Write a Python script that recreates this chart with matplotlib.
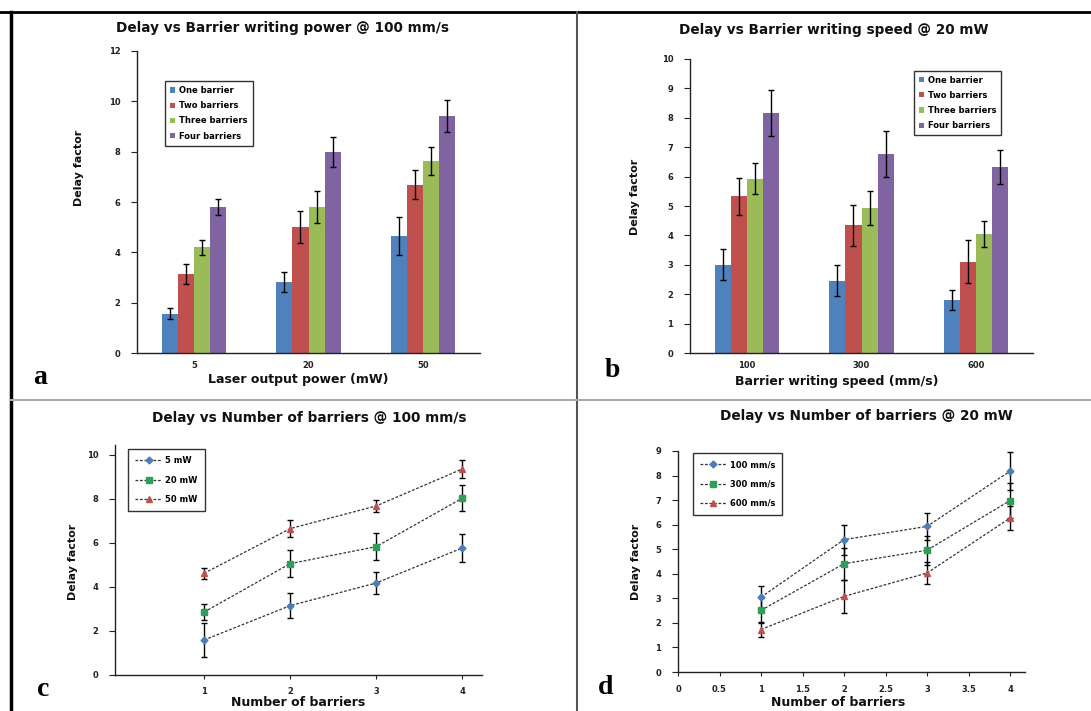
import matplotlib
matplotlib.use("Agg")
import matplotlib.pyplot as plt
import numpy as np
from matplotlib.lines import Line2D

plt.rcParams['font.family'] = ['DejaVu Sans']

W, H = 1091, 711

# ---------------- data ----------------
# Panel a: delay vs writing power @ 100 mm/s
powers = ["5", "20", "50"]
barrier_names = ["One barrier", "Two barriers", "Three barriers", "Four barriers"]
a_one = [1.56, 2.83, 4.65]
a_two = [3.15, 5.02, 6.69]
a_three = [4.20, 5.81, 7.62]
a_four = [5.79, 8.00, 9.43]
a_one_err = [0.22, 0.40, 0.77]
a_two_err = [0.40, 0.63, 0.58]
a_three_err = [0.30, 0.63, 0.55]
a_four_err = [0.32, 0.60, 0.63]

# Panel b: delay vs writing speed @ 20 mW
speeds = ["100", "300", "600"]
b_one = [3.00, 2.46, 1.79]
b_two = [5.33, 4.34, 3.11]
b_three = [5.93, 4.92, 4.05]
b_four = [8.16, 6.77, 6.32]
b_one_err = [0.53, 0.52, 0.34]
b_two_err = [0.63, 0.70, 0.72]
b_three_err = [0.53, 0.58, 0.44]
b_four_err = [0.79, 0.79, 0.57]

# Panel c: delay vs number of barriers @ 100 mm/s
n_barriers = [1, 2, 3, 4]
c_labels = ["5 mW", "20 mW", "50 mW"]
c_5mw = [1.59, 3.15, 4.18, 5.77]
c_20mw = [2.86, 5.06, 5.83, 8.03]
c_50mw = [4.62, 6.65, 7.68, 9.36]
c_5mw_err = [0.75, 0.58, 0.48, 0.64]
c_20mw_err = [0.38, 0.60, 0.60, 0.58]
c_50mw_err = [0.25, 0.40, 0.29, 0.39]

# Panel d: delay vs number of barriers @ 20 mW
d_labels = ["100 mm/s", "300 mm/s", "600 mm/s"]
d_100 = [3.05, 5.39, 5.93, 8.18]
d_300 = [2.51, 4.41, 4.96, 6.98]
d_600 = [1.73, 3.08, 4.03, 6.27]
d_100_err = [0.47, 0.61, 0.54, 0.78]
d_300_err = [0.50, 0.65, 0.59, 0.72]
d_600_err = [0.30, 0.68, 0.43, 0.50]

# ---------------- style ----------------
bar_colors = ["#4F81BD", "#C0504D", "#9BBB59", "#8064A2"]
line_colors = ["#4A7EBB", "#2E9E5B", "#C0504D"]
line_markers = ["D", "s", "^"]
line_msize = [3.5, 5, 4.5]

title_fs = 9.8
label_fs = 9
ylabel_fs = 8
tick_fs = 6
legend_fs = 6
letter_fs = 20

fig = plt.figure(figsize=(W / 100, H / 100), dpi=100)
fig.patch.set_facecolor("white")


def fx(px):
    return px / W


def fy(py):
    return 1 - py / H


def add_ax(left, right, bottom, top):
    return fig.add_axes([left / W, 1 - bottom / H, (right - left) / W, (bottom - top) / H])


def style_axes(ax, xticklen=0):
    for s in ["top", "right"]:
        ax.spines[s].set_visible(False)
    for s in ["left", "bottom"]:
        ax.spines[s].set_color("#222222")
        ax.spines[s].set_linewidth(1.0)
    ax.tick_params(axis="y", length=4, width=0.8, labelsize=tick_fs, colors="#222222", pad=8)
    ax.tick_params(axis="x", length=xticklen, width=0.8, labelsize=tick_fs, colors="#222222", pad=6)
    for lab in ax.get_xticklabels() + ax.get_yticklabels():
        lab.set_fontweight("bold")


def place_labels(ax, title, title_xy, xlabel, xlabel_xy, ylabel_xy):
    fig.text(fx(title_xy[0]), fy(title_xy[1]), title, fontsize=title_fs, fontweight="bold",
             ha="center", va="center", color="#111111")
    ax.set_xlabel(xlabel, fontsize=label_fs, fontweight="bold", color="#111111")
    ax.xaxis.set_label_coords(fx(xlabel_xy[0]), fy(xlabel_xy[1]), transform=fig.transFigure)
    ax.xaxis.label.set_va("center")
    ax.set_ylabel("Delay factor", fontsize=ylabel_fs, fontweight="bold", color="#111111")
    ax.yaxis.set_label_coords(fx(ylabel_xy[0]), fy(ylabel_xy[1]), transform=fig.transFigure)
    ax.yaxis.label.set_va("center")


def bar_panel(ax, cats, series, errs, ylim, yticks, legend_loc):
    x = np.arange(len(cats))
    width = 0.14
    offsets = (np.arange(4) - 1.5) * width
    for i, (vals, er) in enumerate(zip(series, errs)):
        ax.bar(x + offsets[i], vals, width, color=bar_colors[i], label=barrier_names[i],
               yerr=er, error_kw=dict(ecolor="black", elinewidth=1.0, capsize=2.5, capthick=1.0),
               zorder=2)
    ax.set_xlim(-0.5, 2.5)
    ax.set_ylim(*ylim)
    ax.set_yticks(yticks)
    ax.set_xticks(x)
    ax.set_xticklabels(cats)
    style_axes(ax)
    leg = ax.legend(loc="upper left", bbox_to_anchor=legend_loc,
                    prop=dict(weight="bold", size=legend_fs), frameon=True, fancybox=False,
                    edgecolor="black", handlelength=0.6, handleheight=0.6, handletextpad=0.5,
                    labelspacing=0.75, borderpad=0.6)
    leg.get_frame().set_linewidth(1.0)
    return ax


def line_panel(ax, xs, series, errs, names, xlim, ylim, xticks, yticks, legend_loc):
    for i, (vals, er) in enumerate(zip(series, errs)):
        ax.errorbar(xs, vals, yerr=er, fmt="none", ecolor="black", elinewidth=1.0,
                    capsize=2.5, capthick=1.0, zorder=2)
        ax.plot(xs, vals, linestyle=(0, (2.2, 1.4)), color="#333333", linewidth=0.9,
                marker=line_markers[i], markersize=line_msize[i],
                markerfacecolor=line_colors[i], markeredgecolor=line_colors[i],
                label=names[i], zorder=3)
    ax.set_xlim(*xlim)
    ax.set_ylim(*ylim)
    ax.set_xticks(xticks)
    ax.set_yticks(yticks)
    style_axes(ax, xticklen=3)
    leg = ax.legend(loc="upper left", bbox_to_anchor=legend_loc,
                    prop=dict(weight="bold", size=legend_fs), frameon=True, fancybox=False,
                    edgecolor="black", handlelength=3.2, handletextpad=0.4,
                    labelspacing=1.25, borderpad=0.85)
    leg.get_frame().set_linewidth(1.0)
    return ax


# Panel a
ax_a = add_ax(137, 480, 353, 51)
bar_panel(ax_a, powers, [a_one, a_two, a_three, a_four],
          [a_one_err, a_two_err, a_three_err, a_four_err],
          (0, 12), [0, 2, 4, 6, 8, 10, 12], (0.07, 0.915))
place_labels(ax_a, "Delay vs Barrier writing power @ 100 mm/s", (283, 28),
             "Laser output power (mW)", (298, 380), (79, 168))

# Panel b
ax_b = add_ax(690, 1033, 353, 59)
bar_panel(ax_b, speeds, [b_one, b_two, b_three, b_four],
          [b_one_err, b_two_err, b_three_err, b_four_err],
          (0, 10), list(range(0, 11)), (0.64, 0.975))
place_labels(ax_b, "Delay vs Barrier writing speed @ 20 mW", (834, 30),
             "Barrier writing speed (mm/s)", (837, 382), (635, 197))

# Panel c
ax_c = add_ax(115, 482, 675, 445)
line_panel(ax_c, n_barriers, [c_5mw, c_20mw, c_50mw], [c_5mw_err, c_20mw_err, c_50mw_err],
           c_labels, (-0.035, 4.23), (0, 10.45), [1, 2, 3, 4], [0, 2, 4, 6, 8, 10],
           (0.025, 1.0))
place_labels(ax_c, "Delay vs Number of barriers @ 100 mm/s", (309, 418),
             "Number of barriers", (298, 703), (73, 562))

# Panel d
ax_d = add_ax(678, 1025, 672, 451)
line_panel(ax_d, n_barriers, [d_100, d_300, d_600], [d_100_err, d_300_err, d_600_err],
           d_labels, (0, 4.18), (0, 9), [0, 0.5, 1, 1.5, 2, 2.5, 3, 3.5, 4],
           list(range(0, 10)), (0.03, 1.01))
ax_d.set_xticklabels(["0", "0.5", "1", "1.5", "2", "2.5", "3", "3.5", "4"])
for lab in ax_d.get_xticklabels():
    lab.set_fontweight("bold")
place_labels(ax_d, "Delay vs Number of barriers @ 20 mW", (866, 416),
             "Number of barriers", (838, 703), (636, 562))

# Panel letters
for letter, (px, py) in zip("abcd", [(33, 378), (605, 370), (37, 690), (598, 688)]):
    fig.text(fx(px), fy(py), letter, fontsize=letter_fs, fontweight="bold",
             family="Liberation Serif", ha="left", va="center")

# Frame lines
fig.add_artist(Line2D([0, 1], [fy(12), fy(12)], transform=fig.transFigure,
                      color="black", linewidth=2.0))
fig.add_artist(Line2D([fx(11), fx(11)], [0, fy(12)], transform=fig.transFigure,
                      color="black", linewidth=2.5))
fig.add_artist(Line2D([fx(577), fx(577)], [0, fy(12)], transform=fig.transFigure,
                      color="#555555", linewidth=1.5))
fig.add_artist(Line2D([fx(11), 1], [fy(400), fy(400)], transform=fig.transFigure,
                      color="#aaaaaa", linewidth=1.5))

fig.savefig("out.png", dpi=100, facecolor="white")
